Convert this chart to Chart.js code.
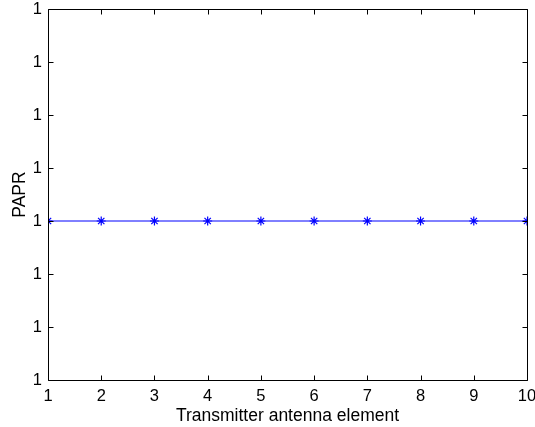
<!DOCTYPE html>
<html>
<head>
<meta charset="utf-8">
<script src="https://cdn.jsdelivr.net/npm/chart.js@4/dist/chart.umd.min.js"></script>
<style>
html,body{margin:0;padding:0;background:#fff;}
#wrap{width:535px;height:427px;position:relative;}
</style>
</head>
<body>
<div id="wrap"><canvas id="c" width="535" height="427"></canvas></div>
<script>
const elements = [1,2,3,4,5,6,7,8,9,10];
const paprValues = [1,1,1,1,1,1,1,1,1,1];
const xTicks = [1,2,3,4,5,6,7,8,9,10];
const yTickValues = [0.97,0.98,0.99,1.00,1.01,1.02,1.03,1.04];
const yTickLabels = ['1','1','1','1','1','1','1','1'];
const xTitle = 'Transmitter antenna element';
const yTitle = 'PAPR';

const FONT = 'Arial, "Liberation Sans", Helvetica, sans-serif';

const framePlugin = {
  id: 'frame',
  afterDatasetsDraw(chart) {
    const ctx = chart.ctx, a = chart.chartArea;
    const xs = chart.scales.x, ys = chart.scales.y;
    ctx.save();
    ctx.strokeStyle = '#000';
    ctx.lineWidth = 1;
    ctx.beginPath();
    const L = Math.round(a.left)+0.5, R = Math.round(a.right)+0.5, T = Math.round(a.top)+0.5, B = Math.round(a.bottom)+0.5;
    ctx.rect(L, T, R-L, B-T);
    const tl = 5;
    xTicks.forEach(v => {
      const px = Math.round(xs.getPixelForValue(v))+0.5;
      ctx.moveTo(px, B); ctx.lineTo(px, B-tl);
      ctx.moveTo(px, T); ctx.lineTo(px, T+tl);
    });
    yTickValues.forEach(v => {
      const py = Math.round(ys.getPixelForValue(v))+0.5;
      ctx.moveTo(L, py); ctx.lineTo(L+tl, py);
      ctx.moveTo(R, py); ctx.lineTo(R-tl, py);
    });
    ctx.stroke();
    ctx.restore();
  }
};

new Chart(document.getElementById('c'), {
  type: 'line',
  data: {
    datasets: [{
      data: elements.map((x,i) => ({x: x, y: paprValues[i]})),
      borderColor: '#0000ff',
      backgroundColor: '#0000ff',
      borderWidth: 1,
      pointStyle: 'star',
      pointRadius: 4.5,
      pointBorderWidth: 1.2,
      pointBorderColor: '#0000ff',
      fill: false,
      tension: 0
    }]
  },
  options: {
    responsive: false,
    animation: false,
    events: [],
    layout: { padding: { left: 0, top: 9, right: 8, bottom: 0 } },
    plugins: { legend: { display: false }, tooltip: { enabled: false } },
    scales: {
      x: {
        type: 'linear',
        min: 1, max: 10,
        afterBuildTicks: s => { s.ticks = xTicks.map(v => ({value: v})); },
        afterFit: s => { s.height = 47; s.paddingLeft = 0; s.paddingRight = 0; },
        grid: { display: false, drawTicks: false },
        border: { display: false },
        ticks: { color: '#000', font: { family: FONT, size: 16.5 }, padding: 7, maxRotation: 0, autoSkip: false,
                 callback: v => String(v) },
        title: { display: true, text: xTitle, color: '#000', font: { family: FONT, size: 17.5 }, padding: { top: 0, bottom: 0 } }
      },
      y: {
        type: 'linear',
        min: yTickValues[0], max: yTickValues[yTickValues.length-1],
        afterBuildTicks: s => { s.ticks = yTickValues.map(v => ({value: v})); },
        afterFit: s => { s.width = 48; s.paddingTop = 0; s.paddingBottom = 0; },
        grid: { display: false, drawTicks: false },
        border: { display: false },
        ticks: { color: '#000', font: { family: FONT, size: 16.5 }, padding: 6, autoSkip: false,
                 callback: (v, i) => yTickLabels[i] },
        title: { display: true, text: yTitle, color: '#000', font: { family: FONT, size: 17.5 }, padding: { top: 10, bottom: 0 } }
      }
    }
  },
  plugins: [framePlugin]
});
</script>
</body>
</html>
